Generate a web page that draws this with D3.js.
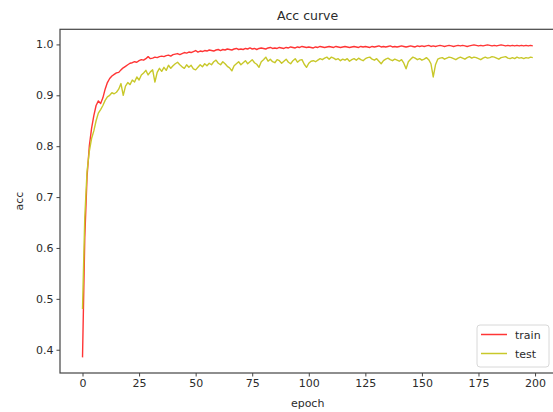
<!DOCTYPE html>
<html>
<head>
<meta charset="utf-8">
<script src="https://cdn.jsdelivr.net/npm/d3@7"></script>
<style>
  body { margin: 0; background: #fff; }
  svg text { font-family: "DejaVu Sans", sans-serif; fill: #2b2b2b; }
</style>
</head>
<body>
<div id="chart"></div>
<script>
// accuracy per epoch
const train = [
  0.385, 0.62, 0.74, 0.80, 0.835, 0.86, 0.88, 0.889, 0.884, 0.895,
  0.912, 0.925, 0.933, 0.938, 0.941, 0.944, 0.945, 0.950, 0.954, 0.957,
  0.960, 0.963, 0.964, 0.966, 0.965, 0.968, 0.970, 0.969, 0.972, 0.976,
  0.972, 0.973, 0.975, 0.974, 0.976, 0.977, 0.976, 0.978, 0.979, 0.977,
  0.980, 0.981, 0.982, 0.980, 0.982, 0.984, 0.983, 0.985, 0.984, 0.986,
  0.988, 0.985, 0.987, 0.986, 0.988, 0.987, 0.989, 0.988, 0.987, 0.989,
  0.990, 0.988, 0.990, 0.989, 0.991, 0.990, 0.989, 0.991, 0.992, 0.990,
  0.991, 0.990, 0.992, 0.991, 0.993, 0.991, 0.992, 0.990, 0.992, 0.993,
  0.992, 0.991, 0.993, 0.994, 0.992, 0.993, 0.992, 0.994, 0.993, 0.992,
  0.994, 0.993, 0.995, 0.994, 0.993, 0.995, 0.994, 0.996, 0.995, 0.994,
  0.995, 0.994, 0.993, 0.995, 0.994, 0.996, 0.995, 0.994, 0.995, 0.996,
  0.995, 0.994, 0.996, 0.995, 0.994, 0.995, 0.996, 0.995, 0.994, 0.995,
  0.996, 0.995, 0.994, 0.996, 0.995, 0.996, 0.995, 0.994, 0.996, 0.995,
  0.996, 0.997, 0.995, 0.996, 0.995, 0.996, 0.997, 0.995, 0.996, 0.995,
  0.996, 0.997, 0.996, 0.995, 0.996, 0.997, 0.996, 0.995, 0.997, 0.996,
  0.997, 0.996, 0.997, 0.998, 0.996, 0.997, 0.996, 0.997, 0.998, 0.997,
  0.996, 0.997, 0.998, 0.997, 0.996, 0.997, 0.998, 0.997, 0.998, 0.997,
  0.996, 0.997, 0.998, 0.999, 0.998, 0.997, 0.998, 0.997, 0.998, 0.999,
  0.998, 0.997, 0.998, 0.997, 0.998, 0.999, 0.998, 0.997, 0.998, 0.997,
  0.998, 0.997, 0.998, 0.997, 0.998, 0.997, 0.998, 0.997, 0.998, 0.997
];

const test = [
  0.48, 0.66, 0.75, 0.79, 0.815, 0.83, 0.85, 0.865, 0.872, 0.880,
  0.890, 0.897, 0.900, 0.905, 0.903, 0.906, 0.912, 0.923, 0.900, 0.918,
  0.925, 0.921, 0.930, 0.926, 0.936, 0.930, 0.940, 0.944, 0.949, 0.940,
  0.946, 0.950, 0.926, 0.945, 0.953, 0.947, 0.955, 0.949, 0.959, 0.953,
  0.958, 0.962, 0.965, 0.960, 0.956, 0.953, 0.960, 0.955, 0.959, 0.952,
  0.950, 0.955, 0.960, 0.956, 0.962, 0.958, 0.963, 0.960, 0.966, 0.969,
  0.963, 0.960, 0.966, 0.962, 0.957, 0.954, 0.948, 0.958, 0.962, 0.966,
  0.960, 0.964, 0.968, 0.962, 0.966, 0.970, 0.964, 0.961, 0.955, 0.966,
  0.970, 0.975, 0.967, 0.971, 0.966, 0.964, 0.970, 0.968, 0.963, 0.967,
  0.971, 0.965, 0.962, 0.968, 0.972, 0.965, 0.969, 0.970, 0.961, 0.955,
  0.963, 0.967, 0.968, 0.966, 0.969, 0.972, 0.970, 0.973, 0.975, 0.971,
  0.975, 0.973, 0.970, 0.972, 0.968, 0.971, 0.969, 0.972, 0.967, 0.970,
  0.972, 0.969, 0.973, 0.970, 0.968, 0.972, 0.974, 0.975, 0.971, 0.969,
  0.972, 0.967, 0.962, 0.968, 0.971, 0.973, 0.970, 0.968, 0.971, 0.969,
  0.967, 0.970, 0.963, 0.952, 0.966, 0.971, 0.975, 0.973, 0.970, 0.972,
  0.969, 0.971, 0.974, 0.970, 0.962, 0.936, 0.960, 0.971, 0.973, 0.974,
  0.971, 0.973, 0.975, 0.974, 0.972, 0.970, 0.973, 0.975, 0.973, 0.971,
  0.974, 0.976, 0.973, 0.975, 0.974, 0.972, 0.970, 0.973, 0.975, 0.973,
  0.974, 0.976, 0.975, 0.973, 0.971, 0.974, 0.975, 0.976, 0.973, 0.972,
  0.974, 0.972, 0.975, 0.973, 0.974, 0.972, 0.974, 0.973, 0.975, 0.974
];

const xTicks = [0, 25, 50, 75, 100, 125, 150, 175, 200];
const yTicks = [0.4, 0.5, 0.6, 0.7, 0.8, 0.9, 1.0];
const seriesNames = ["train", "test"];
const seriesColors = ["#ff3535", "#c8c82a"];

const W = 553, H = 412;
// axes box (right spine falls just outside the picture, like the original)
const box = { left: 60, top: 29.3, right: 555.3, bottom: 373 };

const svg = d3.select("#chart").append("svg")
  .attr("width", W).attr("height", H);

const epochs = train.map((d, i) => i);

// matplotlib style 5% margins
const xPad = (epochs.length - 1) * 0.05;
const x = d3.scaleLinear()
  .domain([-xPad, epochs.length - 1 + xPad])
  .range([box.left, box.right]);

const yExt = d3.extent(train.concat(test));
const yPad = (yExt[1] - yExt[0]) * 0.05;
const y = d3.scaleLinear()
  .domain([yExt[0] - yPad, yExt[1] + yPad])
  .range([box.bottom, box.top]);

// lines
const line = d3.line()
  .x((d, i) => x(i))
  .y(d => y(d));

[train, test].forEach((s, k) => {
  svg.append("path")
    .datum(s)
    .attr("fill", "none")
    .attr("stroke", seriesColors[k])
    .attr("stroke-width", 1.4)
    .attr("stroke-linejoin", "round")
    .attr("d", line);
});

// axes
const xAxis = svg.append("g")
  .attr("transform", "translate(0," + box.bottom + ")")
  .call(d3.axisBottom(x).tickValues(xTicks).tickSize(3.5).tickPadding(3).tickFormat(d3.format("d")));
const yAxis = svg.append("g")
  .attr("transform", "translate(" + box.left + ",0)")
  .call(d3.axisLeft(y).tickValues(yTicks).tickSize(3.5).tickPadding(3).tickFormat(d3.format(".1f")));

[xAxis, yAxis].forEach(g => {
  g.select(".domain").remove();
  g.selectAll(".tick line").attr("stroke", "#444");
  g.selectAll(".tick text")
    .attr("font-size", 11)
    .attr("font-family", "DejaVu Sans, sans-serif")
    .style("fill", "#2b2b2b");
});

// frame
svg.append("rect")
  .attr("x", box.left).attr("y", box.top)
  .attr("width", box.right - box.left).attr("height", box.bottom - box.top)
  .attr("fill", "none").attr("stroke", "#444").attr("stroke-width", 1.2);

// title and labels
svg.append("text")
  .attr("x", (box.left + box.right) / 2).attr("y", 20)
  .attr("text-anchor", "middle").attr("font-size", 12.5)
  .text("Acc curve");

svg.append("text")
  .attr("x", (box.left + box.right) / 2).attr("y", 407)
  .attr("text-anchor", "middle").attr("font-size", 11)
  .text("epoch");

svg.append("text")
  .attr("transform", "translate(23," + ((box.top + box.bottom) / 2) + ") rotate(-90)")
  .attr("text-anchor", "middle").attr("font-size", 11)
  .text("acc");

// legend
const lg = svg.append("g").attr("transform", "translate(477,325)");
lg.append("rect")
  .attr("width", 72).attr("height", 42).attr("rx", 3)
  .attr("fill", "#fff").attr("fill-opacity", 0.8)
  .attr("stroke", "#d8d8d8");
seriesNames.forEach((n, k) => {
  const yy = 9.5 + k * 19;
  lg.append("line")
    .attr("x1", 4).attr("x2", 30).attr("y1", yy).attr("y2", yy)
    .attr("stroke", seriesColors[k]).attr("stroke-width", 1.5);
  lg.append("text")
    .attr("x", 38).attr("y", yy + 4).attr("font-size", 11)
    .text(n);
});
</script>
</body>
</html>
